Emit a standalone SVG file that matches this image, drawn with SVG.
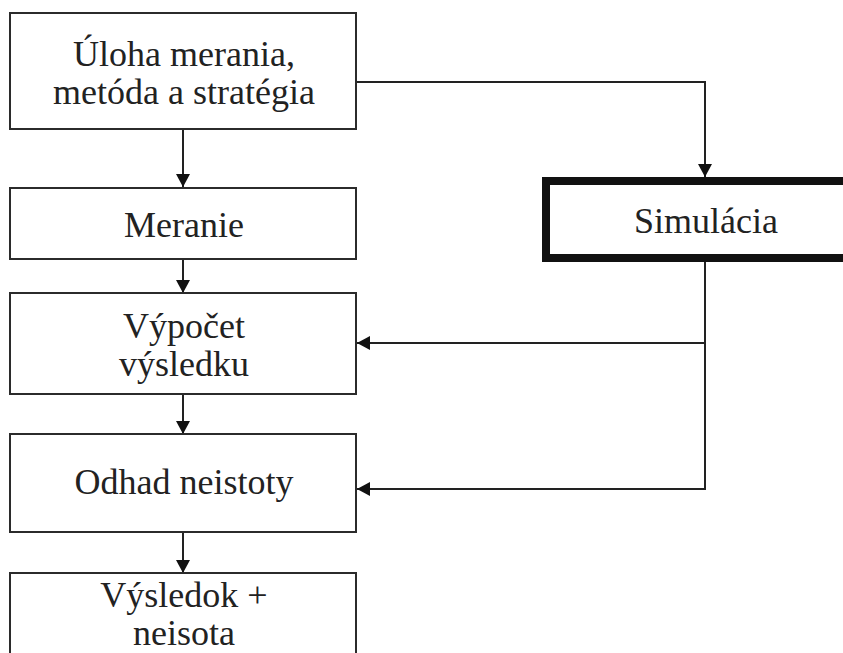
<svg xmlns="http://www.w3.org/2000/svg" width="843" height="653" viewBox="0 0 843 653">
  <style>
    .box { fill: #ffffff; stroke: #2b2b2b; stroke-width: 2; }
    .thick { fill: #ffffff; stroke: #111111; stroke-width: 8; }
    .lbl { font-size: 36px; fill: #222222; text-anchor: middle; }
    .wire { fill: none; stroke: #222222; stroke-width: 2; }
  </style>
  <defs>
    <!-- solid triangular arrowhead shared by every connector -->
    <marker id="arrow" viewBox="0 0 13 14" refX="13" refY="7" markerWidth="13" markerHeight="14" markerUnits="userSpaceOnUse" orient="auto">
      <path d="M0,0 L13,7 L0,14 Z" fill="#111111"/>
    </marker>
  </defs>
  <rect width="843" height="653" fill="#ffffff"/>

  <g id="connectors">
    <path class="wire" d="M183,129 V187" marker-end="url(#arrow)"/>
    <path class="wire" d="M183,259 V293" marker-end="url(#arrow)"/>
    <path class="wire" d="M183,394 V434" marker-end="url(#arrow)"/>
    <path class="wire" d="M183,532 V573" marker-end="url(#arrow)"/>
    <path class="wire" d="M356,82 H705 V177" marker-end="url(#arrow)"/>
    <path class="wire" d="M705,262 V489 H357" marker-end="url(#arrow)"/>
    <path class="wire" d="M705,343 H357" marker-end="url(#arrow)"/>
  </g>

  <g font-family="Liberation Serif">
    <g id="uloha">
      <rect class="box" x="10" y="13" width="346" height="116"/>
      <text class="lbl" x="184" y="66">Úloha merania,</text>
      <text class="lbl" x="184" y="104">metóda a stratégia</text>
    </g>

    <g id="meranie">
      <rect class="box" x="10" y="188" width="346" height="71"/>
      <text class="lbl" x="184" y="237">Meranie</text>
    </g>

    <g id="vypocet">
      <rect class="box" x="10" y="293" width="346" height="101"/>
      <text class="lbl" x="184" y="338">Výpočet</text>
      <text class="lbl" x="184" y="376">výsledku</text>
    </g>

    <g id="odhad">
      <rect class="box" x="10" y="434" width="346" height="98"/>
      <text class="lbl" x="184" y="494">Odhad neistoty</text>
    </g>

    <g id="vysledok">
      <rect class="box" x="10" y="573" width="346" height="90"/>
      <text class="lbl" x="184" y="607">Výsledok +</text>
      <text class="lbl" x="184" y="645">neisota</text>
    </g>

    <g id="simulacia">
      <rect class="thick" x="546" y="181" width="310" height="77"/>
      <text class="lbl" x="706" y="233">Simulácia</text>
    </g>
  </g>
</svg>
